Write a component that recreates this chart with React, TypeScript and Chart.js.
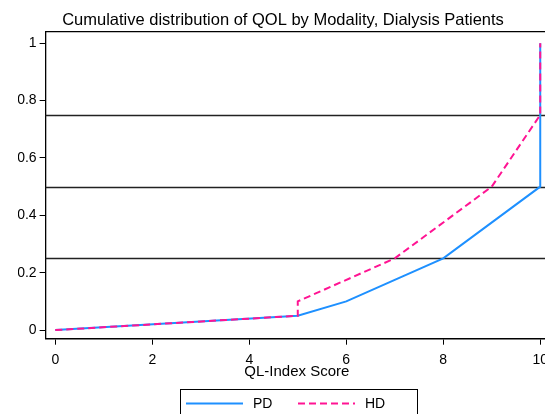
import React, { useEffect, useRef } from "react";
import { Chart, registerables } from "chart.js";

Chart.register(...registerables);

const titleText = "Cumulative distribution of QOL by Modality, Dialysis Patients";
const xAxisTitle = "QL-Index Score";
const xTicks = [0, 2, 4, 6, 8, 10];
const yTicks = [0, 0.2, 0.4, 0.6, 0.8, 1];
const refLevels = [0.25, 0.5, 0.75];

const pdX = [0, 5, 6, 8, 10, 10];
const pdY = [0, 0.05, 0.1, 0.25, 0.5, 1];
const hdX = [0, 5, 5, 7, 9, 10, 10];
const hdY = [0, 0.05, 0.1, 0.25, 0.5, 0.75, 1];

const PD_COLOR = "#1E90FF";
const HD_COLOR = "#FF1493";

const frame = {
  id: "frame",
  beforeDatasetsDraw(chart: any) {
    const { ctx, chartArea, scales } = chart;
    ctx.save();
    ctx.strokeStyle = "#222";
    ctx.lineWidth = 1.3;
    for (const v of refLevels) {
      const y = Math.round(scales.y.getPixelForValue(v)) + 0.5;
      ctx.beginPath();
      ctx.moveTo(chartArea.left, y);
      ctx.lineTo(chartArea.right, y);
      ctx.stroke();
    }
    ctx.strokeStyle = "#000";
    ctx.lineWidth = 1.3;
    ctx.beginPath();
    ctx.moveTo(chartArea.left, chartArea.top);
    ctx.lineTo(chartArea.right, chartArea.top);
    ctx.stroke();
    ctx.restore();
  },
};

const boxLegend = {
  id: "boxLegend",
  afterDraw(chart: any) {
    const { ctx } = chart;
    const ds = chart.data.datasets;
    ctx.save();
    const left = 180;
    const top = 389.5;
    const w = 237;
    const h = 40;
    ctx.strokeStyle = "#000";
    ctx.lineWidth = 1;
    ctx.strokeRect(left + 0.5, top, w, h);
    ctx.font = "14px 'Liberation Sans', Arial, sans-serif";
    ctx.textBaseline = "middle";
    ctx.fillStyle = "#000";
    const cy = 403.5;
    const items = [
      { x0: 186, x1: 243, tx: 253 },
      { x0: 298, x1: 355, tx: 365 },
    ];
    ds.forEach((d: any, i: number) => {
      const it = items[i];
      ctx.strokeStyle = d.borderColor;
      ctx.lineWidth = d.borderWidth;
      ctx.setLineDash(d.borderDash || []);
      ctx.beginPath();
      ctx.moveTo(it.x0, cy);
      ctx.lineTo(it.x1, cy);
      ctx.stroke();
      ctx.setLineDash([]);
      ctx.fillText(d.label, it.tx, cy + 1);
    });
    ctx.restore();
  },
};

export default function App() {
  const ref = useRef<HTMLCanvasElement>(null);
  useEffect(() => {
    if (!ref.current) return;
    const chart = new Chart(ref.current, {
      type: "line",
      data: {
        datasets: [
          {
            label: "PD",
            data: pdX.map((x, i) => ({ x, y: pdY[i] })),
            borderColor: PD_COLOR,
            backgroundColor: PD_COLOR,
            borderWidth: 2,
            pointRadius: 0,
            tension: 0,
            fill: false,
            order: 2,
          },
          {
            label: "HD",
            data: hdX.map((x, i) => ({ x, y: hdY[i] })),
            borderColor: HD_COLOR,
            backgroundColor: HD_COLOR,
            borderWidth: 2,
            borderDash: [7, 4],
            pointRadius: 0,
            tension: 0,
            fill: false,
            order: 1,
          },
        ],
      },
      options: {
        animation: false,
        responsive: false,
        devicePixelRatio: 1,
        layout: { padding: { left: 18, right: 12, top: 0, bottom: 34.3 } },
        plugins: {
          legend: { display: false },
          tooltip: { enabled: false },
          title: {
            display: true,
            text: titleText,
            color: "#000",
            font: { family: "'Liberation Sans', Arial, sans-serif", size: 16.5, weight: "normal", lineHeight: 1.2 },
            padding: { top: 11, bottom: 0.9 },
          },
        },
        scales: {
          x: {
            type: "linear",
            min: -0.2,
            max: 10.16,
            afterBuildTicks: (s: any) => {
              s.ticks = xTicks.map((v) => ({ value: v }));
            },
            afterFit: (s: any) => {
              s.height = 41;
            },
            border: { display: true, color: "#000", width: 1.5 },
            grid: { display: true, drawOnChartArea: false, drawTicks: true, tickLength: 6, color: "#000", tickWidth: 1 },
            ticks: {
              color: "#000",
              padding: 7,
              maxRotation: 0,
              autoSkip: false,
              font: { family: "'Liberation Sans', Arial, sans-serif", size: 14 },
              callback: (v: any) => String(v),
            },
            title: {
              display: true,
              text: xAxisTitle,
              color: "#000",
              font: { family: "'Liberation Sans', Arial, sans-serif", size: 15, lineHeight: 1.0 },
              padding: { top: 0, bottom: 0 },
            },
          },
          y: {
            type: "linear",
            min: -0.03,
            max: 1.04,
            afterBuildTicks: (s: any) => {
              s.ticks = yTicks.map((v) => ({ value: v }));
            },
            afterFit: (s: any) => {
              s.width = 45.6 - 18;
            },
            border: { display: true, color: "#000", width: 1.3 },
            grid: { display: true, drawOnChartArea: false, drawTicks: true, tickLength: 6, color: "#000", tickWidth: 1 },
            ticks: {
              color: "#000",
              padding: 3,
              autoSkip: false,
              font: { family: "'Liberation Sans', Arial, sans-serif", size: 14 },
              callback: (v: any) => String(Math.round(Number(v) * 10) / 10),
            },
          },
        },
      },
      plugins: [frame, boxLegend],
    });
    return () => chart.destroy();
  }, []);
  return (
    <div style={{ position: "fixed", left: 0, top: 0, width: 545, height: 414, overflow: "hidden", background: "#fff" }}>
      <canvas ref={ref} width={560} height={414} style={{ width: 560, height: 414, display: "block" }} />
    </div>
  );
}
